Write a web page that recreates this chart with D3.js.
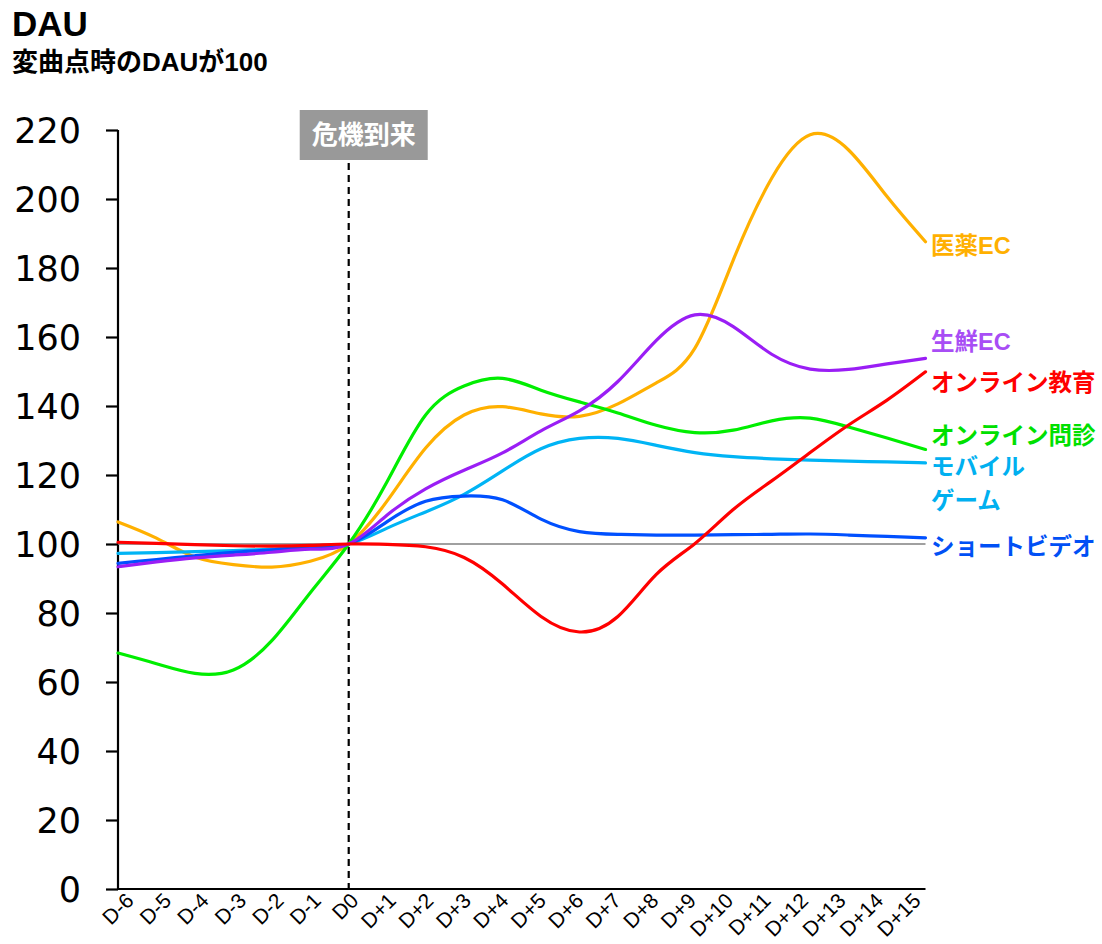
<!DOCTYPE html>
<html>
<head>
<meta charset="utf-8">
<script src="https://cdn.jsdelivr.net/npm/d3@7/dist/d3.min.js"></script>
<style>
  html, body { margin: 0; padding: 0; background: #fff; }
  svg { display: block; }
  .jp { font-family: "Liberation Sans", "Noto Sans CJK JP", sans-serif; font-weight: bold; }
</style>
</head>
<body>
<svg id="chart" width="1102" height="944"></svg>
<script>
// Days relative to the turning point (D0)
const days = ["D-6","D-5","D-4","D-3","D-2","D-1","D0","D+1","D+2","D+3","D+4","D+5",
              "D+6","D+7","D+8","D+9","D+10","D+11","D+12","D+13","D+14","D+15"];

// DAU index per category (value at D0 = 100)
const pharmacyEC   = [106.4, 101.7, 96.2, 94.0, 93.3, 95.0, 100, 112.5, 127.8, 137.4, 139.8, 137.7,
                      137.0, 140.6, 146.7, 156.7, 182.3, 206.0, 218.6, 214.2, 200.7, 187.6];
const freshFoodEC  = [93.4, 94.8, 96.0, 96.8, 97.6, 98.5, 100, 108.4, 116.0, 121.4, 126.4, 132.8,
                      138.6, 147.1, 159.0, 166.4, 163.0, 155.0, 150.7, 150.6, 152.2, 153.8];
const onlineEdu    = [100.5, 100.2, 99.8, 99.5, 99.4, 99.6, 100, 99.9, 99.2, 96.1, 88.4, 79.0,
                      74.5, 79.0, 91.2, 100.1, 110.0, 118.3, 126.5, 134.5, 141.7, 149.9];
const onlineClinic = [68.4, 65.3, 62.5, 63.5, 72.0, 85.9, 100, 118.1, 137.4, 145.8, 148.0, 144.6,
                      141.2, 138.0, 134.4, 132.3, 133.0, 135.7, 136.5, 133.9, 130.7, 127.4];
const mobileGame   = [97.3, 97.5, 97.8, 98.1, 98.5, 99.1, 100, 104.6, 109.3, 114.4, 121.2, 127.6,
                      130.6, 130.6, 128.6, 126.5, 125.3, 124.7, 124.3, 124.0, 123.8, 123.5];
const shortVideo   = [94.4, 95.5, 96.6, 97.6, 98.3, 99.0, 100, 106.5, 112.4, 113.9, 112.8, 107.2,
                      103.6, 102.8, 102.6, 102.6, 102.7, 102.8, 102.9, 102.6, 102.2, 101.8];

const yTicks = [0, 20, 40, 60, 80, 100, 120, 140, 160, 180, 200, 220];
const baseline = 100;
const crisisDay = "D0";

// Series: name, values, line colour, label colour, label offset (px)
const series = [
  { name: ["医薬EC"],          values: pharmacyEC,   color: "#FFB000", text: "#FFB000", dy: 4 },
  { name: ["オンライン問診"],  values: onlineClinic, color: "#00EE00", text: "#00E000", dy: -13 },
  { name: ["モバイル", "ゲーム"], values: mobileGame, color: "#00B4F5", text: "#00B0F0", dy: 4 },
  { name: ["ショートビデオ"],  values: shortVideo,   color: "#0050FF", text: "#0050F5", dy: 9 },
  { name: ["生鮮EC"],          values: freshFoodEC,  color: "#9A1EF5", text: "#A84DF5", dy: -16 },
  { name: ["オンライン教育"],  values: onlineEdu,    color: "#FF0000", text: "#FF0000", dy: 11 }
];

const svg = d3.select("#chart");

const x = d3.scalePoint().domain(days).range([118, 925.5]);
const xLabel = d3.scalePoint().domain(days).range([135, 922]);
const y = d3.scaleLinear().domain([0, 220]).range([889, 130]);

// Title
svg.append("text").attr("x", 12).attr("y", 36)
  .attr("font-family", "Liberation Sans, Arial, sans-serif")
  .attr("font-weight", "bold").attr("font-size", 35).attr("fill", "#000").text("DAU");
svg.append("text").attr("class", "jp").attr("x", 12).attr("y", 71)
  .attr("font-size", 26).attr("fill", "#000").text("変曲点時のDAUが100");

// Y axis
const yAxis = d3.axisLeft(y).tickValues(yTicks).tickSize(12).tickPadding(25);
const gy = svg.append("g").attr("transform", "translate(118,0)").call(yAxis);
gy.select(".domain").attr("stroke", "#000").attr("stroke-width", 2.2).attr("d", `M0,${y(220)}V${y(0)}`);
gy.selectAll(".tick line").attr("stroke", "#000").attr("stroke-width", 2.2);
gy.selectAll(".tick text").attr("font-family", "DejaVu Sans, Verdana, sans-serif")
  .attr("font-size", 35).attr("fill", "#000").attr("dy", "0.36em");

// X axis line
svg.append("line").attr("x1", 118).attr("x2", x(days[days.length - 1]))
  .attr("y1", y(0)).attr("y2", y(0)).attr("stroke", "#000").attr("stroke-width", 2.2);

// X labels, rotated
svg.append("g").selectAll("text").data(days).join("text")
  .attr("transform", d => `translate(${xLabel(d)},902) rotate(-45)`)
  .attr("text-anchor", "end")
  .attr("font-family", "Liberation Sans, Arial, sans-serif")
  .attr("font-size", 21).attr("fill", "#000").text(d => d);

// Baseline at 100
svg.append("line").attr("x1", 118).attr("x2", x(days[days.length - 1]))
  .attr("y1", y(baseline)).attr("y2", y(baseline))
  .attr("stroke", "#808080").attr("stroke-width", 1.6);

// Crisis marker
svg.append("line").attr("x1", x(crisisDay)).attr("x2", x(crisisDay))
  .attr("y1", 163).attr("y2", y(0))
  .attr("stroke", "#000").attr("stroke-width", 2.2).attr("stroke-dasharray", "7,5");
svg.append("rect").attr("x", x(crisisDay) - 49).attr("y", 110).attr("width", 128).attr("height", 50)
  .attr("fill", "#999999");
svg.append("text").attr("class", "jp").attr("x", x(crisisDay) + 15).attr("y", 135)
  .attr("text-anchor", "middle").attr("dominant-baseline", "central")
  .attr("font-size", 26).attr("fill", "#fff").text("危機到来");

// Lines
const line = d3.line()
  .x((d, i) => x(days[i]))
  .y(d => y(d))
  .curve(d3.curveNatural);

svg.append("g").selectAll("path").data(series).join("path")
  .attr("d", s => line(s.values))
  .attr("fill", "none")
  .attr("stroke", s => s.color)
  .attr("stroke-width", 3.2)
  .attr("stroke-linecap", "round");

// End labels
const lab = svg.append("g").selectAll("text").data(series).join("text")
  .attr("class", "jp")
  .attr("x", 931)
  .attr("y", s => y(s.values[s.values.length - 1]) + s.dy)
  .attr("dominant-baseline", "central")
  .attr("font-size", 23.5)
  .attr("fill", s => s.text);
lab.selectAll("tspan").data(s => s.name).join("tspan")
  .attr("x", 931)
  .attr("dy", (d, i) => i === 0 ? 0 : 34)
  .text(d => d);
</script>
</body>
</html>
